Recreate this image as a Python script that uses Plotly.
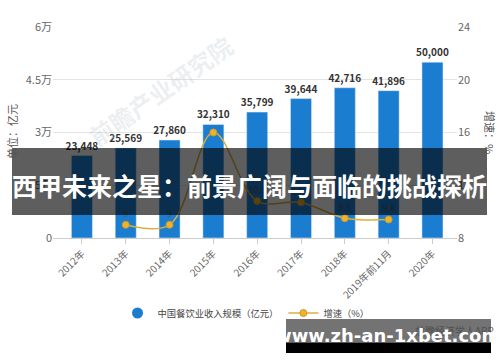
import plotly.graph_objects as go

# ---- data ----
categories = ["2012年", "2013年", "2014年", "2015年", "2016年", "2017年", "2018年", "2019年前11月", "2020年"]
revenue = [23448, 25569, 27860, 32310, 35799, 39644, 42716, 41896, 50000]
growth_categories = ["2013年", "2014年", "2015年", "2016年", "2017年", "2018年", "2019年前11月"]
growth = [9.0, 9.0, 16.0, 10.8, 10.7, 9.5, 9.4]
growth_labels = ["9", "9", "", "10.8", "10.7", "9.5", "9.4"]
left_tickvals = [0, 15000, 30000, 45000, 60000]
left_ticktext = ["0", "1.5万", "3万", "4.5万", "6万"]
right_tickvals = [8, 12, 16, 20, 24]
bar_name = "中国餐饮业收入规模（亿元）"
line_name = "增速（%）"
banner_text = "西甲未来之星：前景广阔与面临的挑战探析"
site_text = "www.zh-an-1xbet.com"

FONT = "Noto Sans CJK SC, Noto Sans, sans-serif"
BLUE = "#1b7dd0"
GOLD = "#f0b12c"

# plot area in pixels
L, R, T, B = 53, 457, 27, 238
W, H = 500, 362


def px(x):
    return (x - L) / (R - L)


def py(y):
    return (B - y) / (B - T)


fig = go.Figure()

fig.add_trace(go.Bar(
    x=categories, y=revenue, marker_color=BLUE, width=0.48,
    texttemplate="%{y:,}", textposition="outside", constraintext="none",
    textfont=dict(size=10, color="#333", family=FONT, weight="bold"),
    cliponaxis=False, showlegend=False, hoverinfo="skip",
))
# legend proxy for bars (round marker)
fig.add_trace(go.Scatter(
    x=[None], y=[None], mode="markers", name=bar_name,
    marker=dict(color=BLUE, size=11, symbol="circle"),
))
fig.add_trace(go.Scatter(
    x=growth_categories, y=growth, yaxis="y2", name=line_name,
    mode="lines+markers+text", text=growth_labels, textposition="top center",
    textfont=dict(size=9, color="#555", family=FONT),
    line=dict(color="#dcae3e", width=1.5, shape="spline", smoothing=1.0),
    marker=dict(color=GOLD, size=7, line=dict(color="#c99a2a", width=1)),
    cliponaxis=False,
))

shapes = [
    # banner
    dict(type="rect", xref="paper", yref="paper", x0=px(12), x1=px(487), y0=py(215), y1=py(148),
         fillcolor="rgba(0,0,0,0.63)", line=dict(width=0), layer="above"),
    # site banner: translucent upper part and black strip
    dict(type="rect", xref="paper", yref="paper", x0=px(286), x1=px(491), y0=py(342.5), y1=py(319),
         fillcolor="rgba(0,0,0,0.55)", line=dict(width=0), layer="above"),
    dict(type="rect", xref="paper", yref="paper", x0=px(286), x1=px(491), y0=py(353), y1=py(342.5),
         fillcolor="#000", line=dict(width=0), layer="above"),
]


def note(text, x, y, size, color, xanchor="center", angle=0, weight="normal", family=FONT):
    return dict(text=text, xref="paper", yref="paper", x=px(x), y=py(y), showarrow=False,
                xanchor=xanchor, yanchor="middle", textangle=angle,
                font=dict(size=size, color=color, family=family, weight=weight))


annotations = [
    note("前瞻产业研究院", 160, 90, 24, "rgba(170,185,200,0.22)", angle=-35, weight="bold"),
    note("单位：亿元", 12, 132, 11, "#555", angle=-90),
    note("增速：%", 490, 132, 11, "#555", angle=90),
    note(banner_text, 249.5, 185, 25, "white", weight="bold"),
    note("前瞻经济学人APP", 496, 330, 10, "rgba(70,70,70,0.8)", xanchor="right"),
    note(site_text, 387.5, 335, 18, "white", weight="bold", family="DejaVu Sans, sans-serif"),
]

fig.update_layout(
    width=W, height=H,
    margin=dict(l=L, r=W - R, t=T, b=H - B, autoexpand=False),
    paper_bgcolor="white", plot_bgcolor="white",
    font=dict(family=FONT, color="#555"),
    xaxis=dict(
        type="category", range=[-0.66, 8.56], tickangle=-45, automargin=False,
        tickfont=dict(size=10, color="#666"), showgrid=False,
        showline=True, linecolor="#cccccc", ticks="outside", ticklen=5, tickcolor="#cccccc",
    ),
    yaxis=dict(
        range=[0, 60000], tickvals=left_tickvals, ticktext=left_ticktext, automargin=False,
        tickfont=dict(size=11, color="#666"), showgrid=True, gridcolor="#e3e3e3",
        zeroline=False, showline=False, ticks="",
    ),
    yaxis2=dict(
        range=[8, 24], tickvals=right_tickvals, overlaying="y", side="right", automargin=False,
        tickfont=dict(size=11, color="#666"), showgrid=False, zeroline=False, showline=False,
    ),
    legend=dict(
        orientation="h", x=px(246), xanchor="center", y=py(313), yanchor="middle",
        font=dict(size=9.3, color="#444", family=FONT), bgcolor="rgba(0,0,0,0)",
        itemwidth=30,
    ),
    shapes=shapes,
    annotations=annotations,
    bargap=0.52,
)

fig.write_html(
    "out.html",
    config={"displayModeBar": False},
    post_script="document.body.style.margin='0';document.body.style.overflow='hidden';",
)
